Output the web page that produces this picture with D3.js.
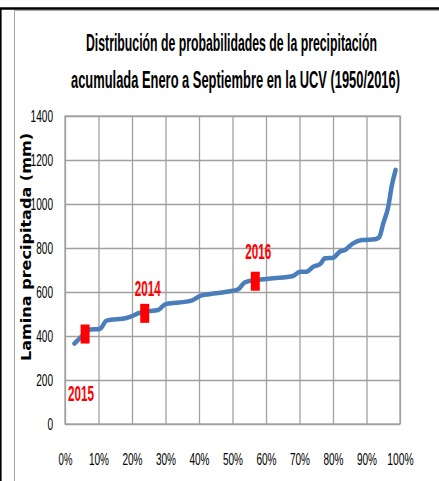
<!DOCTYPE html>
<html lang="es">
<head>
  <meta charset="utf-8">
  <title>Distribución de probabilidades de la precipitación</title>
  <script src="https://cdn.jsdelivr.net/npm/d3@7"></script>
  <style>
    body { margin: 0; background: #fff; }
    text { font-family: "Liberation Sans", Arial, sans-serif; }
  </style>
</head>
<body>
<script>
    // probability (%) vs accumulated rainfall Jan-Sep (mm)
    var probs  = [2.8, 5.5, 7.5, 10.4, 12.4, 18.4, 23.3, 27.8, 30, 34, 38, 40.3, 45, 50.2, 51.7, 53.7, 57.2, 62.2,
                  68.1, 70.1, 72, 74.1, 76.1, 77.6, 80.1, 82, 83.6, 85.6, 88.6, 92.5, 93.8, 95, 96.5, 97.5, 98.7];
    var lamina = [365, 405, 430, 432, 470, 482, 510, 518, 545, 552, 562, 582, 594, 606, 612, 644, 655, 662,
                  673, 692, 692, 715, 726, 753, 756, 783, 791, 817, 836, 840, 849, 912, 988, 1079, 1155];

    // highlighted years
    var years      = ["2015", "2014", "2016"];
    var yearProbs  = [6, 23.8, 56.8];
    var yearValues = [409, 503, 649];

    var xTicks = [0, 10, 20, 30, 40, 50, 60, 70, 80, 90, 100];
    var yTicks = [0, 200, 400, 600, 800, 1000, 1200, 1400];

    var titleLines = ["Distribución de probabilidades de la precipitación",
                      "acumulada Enero a Septiembre en la UCV (1950/2016)"];
    var yTitle = "Lamina precipitada (mm)";

    var width = 439,
        height = 481;
    var plotLeft = 65, plotRight = 400, plotTop = 116, plotBottom = 424;

    var svg = d3.select("body").append("svg")
        .attr("width", width)
        .attr("height", height);

    // outer frame
    svg.append("rect").attr("x", 14.5).attr("y", 10.5)
        .attr("width", width).attr("height", height)
        .attr("fill", "none").attr("stroke", "#a6a6a6").attr("stroke-width", 1);
    svg.append("line").attr("x1", 0).attr("x2", width).attr("y1", 8.5).attr("y2", 8.5)
        .attr("stroke", "#000").attr("stroke-width", 2.5);
    svg.append("line").attr("x1", 0.8).attr("x2", 0.8).attr("y1", 8).attr("y2", height)
        .attr("stroke", "#000").attr("stroke-width", 1.6);

    var x = d3.scaleLinear().domain([0, 100]).range([plotLeft, plotRight]);
    var y = d3.scaleLinear().domain([0, 1400]).range([plotBottom, plotTop]);

    // grid
    svg.append("g")
        .attr("transform", "translate(0," + plotBottom + ")")
        .call(d3.axisBottom(x).tickValues(xTicks).tickSize(-(plotBottom - plotTop)).tickFormat(""))
        .call(function(g) {
          g.select(".domain").remove();
          g.selectAll("line").attr("stroke", "#a0a0a0").attr("stroke-width", 1.3);
        });
    svg.append("g")
        .attr("transform", "translate(" + plotLeft + ",0)")
        .call(d3.axisLeft(y).tickValues(yTicks).tickSize(-(plotRight - plotLeft)).tickFormat(""))
        .call(function(g) {
          g.select(".domain").remove();
          g.selectAll("line").attr("stroke", "#a0a0a0").attr("stroke-width", 1.3);
        });
    svg.append("rect")
        .attr("x", plotLeft).attr("y", plotTop)
        .attr("width", plotRight - plotLeft).attr("height", plotBottom - plotTop)
        .attr("fill", "none").attr("stroke", "#a0a0a0").attr("stroke-width", 1.3);

    // axes labels
    svg.append("g")
        .attr("transform", "translate(0," + plotBottom + ")")
        .call(d3.axisBottom(x).tickValues(xTicks).tickSize(0).tickFormat(function(d) { return d + "%"; }))
        .call(function(g) {
          g.select(".domain").remove();
          g.selectAll("text")
              .attr("y", 41).attr("dy", 0)
              .attr("fill", "#000")
              .style("font-size", "17px")
              .attr("textLength", function(d) { return (String(d).length) * 6.3 + 7.5; })
              .attr("lengthAdjust", "spacingAndGlyphs");
        });
    svg.append("g")
        .attr("transform", "translate(" + plotLeft + ",0)")
        .call(d3.axisLeft(y).tickValues(yTicks).tickSize(0).tickPadding(12).tickFormat(d3.format("d")))
        .call(function(g) {
          g.select(".domain").remove();
          g.selectAll("text")
              .attr("dy", "0.36em")
              .attr("fill", "#000")
              .style("font-size", "16px")
              .attr("textLength", function(d) { return String(d).length * 5.6; })
              .attr("lengthAdjust", "spacingAndGlyphs");
        });

    // title
    svg.append("text").attr("x", 86).attr("y", 51)
        .style("font-size", "23px").style("font-weight", "bold")
        .attr("textLength", 291).attr("lengthAdjust", "spacingAndGlyphs")
        .text(titleLines[0]);
    svg.append("text").attr("x", 71).attr("y", 88)
        .style("font-size", "23px").style("font-weight", "bold")
        .attr("textLength", 329).attr("lengthAdjust", "spacingAndGlyphs")
        .text(titleLines[1]);

    svg.append("text")
        .attr("transform", "translate(31,247) rotate(-90)")
        .attr("text-anchor", "middle")
        .style("font-family", "'DejaVu Sans', Verdana, sans-serif")
        .style("font-size", "13.5px").style("font-weight", "bold")
        .attr("textLength", 228).attr("lengthAdjust", "spacingAndGlyphs")
        .text(yTitle);

    // curve
    var line = d3.line()
        .x(function(d, i) { return x(probs[i]); })
        .y(function(d) { return y(d); })
        .curve(d3.curveMonotoneX);
    svg.append("path")
        .attr("d", line(lamina))
        .attr("fill", "none")
        .attr("stroke", "#4a7ebb")
        .attr("stroke-width", 4.5)
        .attr("stroke-linejoin", "round")
        .attr("stroke-linecap", "round");

    // year markers
    svg.append("g").selectAll("rect")
        .data(yearValues)
        .enter().append("rect")
        .attr("x", function(d, i) { return x(yearProbs[i]) - 4.5; })
        .attr("y", function(d) { return y(d) - 9.5; })
        .attr("width", 9).attr("height", 19)
        .attr("fill", "#ff0000");

    // year labels (offset from their marker, in px)
    var labelDx = [-4, 3, 3];
    var labelDy = [67, -17, -22];
    svg.append("g").selectAll("text")
        .data(years)
        .enter().append("text")
        .attr("x", function(d, i) { return x(yearProbs[i]) + labelDx[i]; })
        .attr("y", function(d, i) { return y(yearValues[i]) + labelDy[i]; })
        .attr("text-anchor", "middle")
        .attr("fill", "#ff0000")
        .style("font-size", "22px").style("font-weight", "bold")
        .attr("textLength", 26).attr("lengthAdjust", "spacingAndGlyphs")
        .text(function(d) { return d; });
</script>
</body>
</html>
